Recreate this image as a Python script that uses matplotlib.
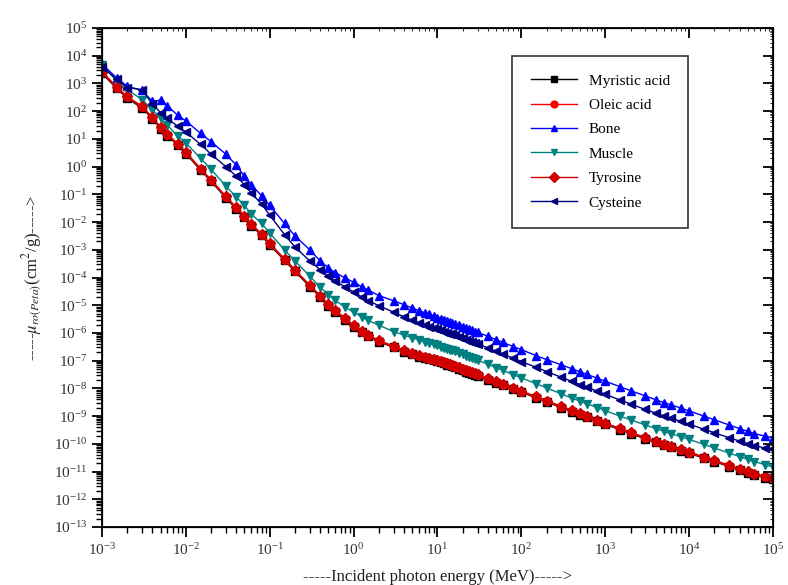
import matplotlib
matplotlib.use("Agg")
import matplotlib.pyplot as plt
import numpy as np

plt.rcParams['font.family'] = ['Liberation Serif', 'DejaVu Serif']
plt.rcParams['mathtext.fontset'] = 'stix'

# photon energy (MeV)
energy = [0.001, 0.0015, 0.002, 0.003, 0.004, 0.005, 0.006, 0.008, 0.01, 0.015,
          0.02, 0.03, 0.04, 0.05, 0.06, 0.08, 0.1, 0.15, 0.2, 0.3,
          0.4, 0.5, 0.6, 0.8, 1, 1.25, 1.5, 2, 3, 4,
          5, 6, 7, 8, 9, 10, 11, 12, 13, 14,
          15, 16, 18, 20, 22, 24, 26, 28, 30, 40,
          50, 60, 80, 100, 150, 200, 300, 400, 500, 600,
          800, 1000, 1500, 2000, 3000, 4000, 5000, 6000, 8000, 1e4,
          1.5e4, 2e4, 3e4, 4e4, 5e4, 6e4, 8e4, 1e5]

# log10 of mu (cm^2/g)
myristic = [3.36, 2.82, 2.47, 2.11, 1.72, 1.37, 1.12, 0.77, 0.47, -0.13,
            -0.53, -1.13, -1.53, -1.83, -2.13, -2.48, -2.83, -3.38, -3.78, -4.33,
            -4.71, -5.03, -5.23, -5.53, -5.78, -5.97, -6.12, -6.32, -6.52, -6.67,
            -6.77, -6.85, -6.9, -6.95, -6.99, -7.02, -7.06, -7.1, -7.14, -7.17,
            -7.2, -7.23, -7.29, -7.34, -7.39, -7.43, -7.47, -7.51, -7.54, -7.68,
            -7.79, -7.88, -8.02, -8.14, -8.34, -8.49, -8.69, -8.84, -8.95, -9.04,
            -9.19, -9.3, -9.49, -9.63, -9.82, -9.95, -10.05, -10.12, -10.24, -10.34,
            -10.52, -10.64, -10.82, -10.94, -11.04, -11.12, -11.22, -11.28]
oleic = [3.4, 2.85, 2.5, 2.15, 1.75, 1.4, 1.15, 0.8, 0.5, -0.1,
         -0.5, -1.1, -1.5, -1.8, -2.1, -2.45, -2.8, -3.35, -3.75, -4.3,
         -4.68, -5.0, -5.2, -5.5, -5.75, -5.95, -6.1, -6.3, -6.5, -6.65,
         -6.75, -6.83, -6.88, -6.93, -6.97, -7.0, -7.04, -7.08, -7.12, -7.15,
         -7.18, -7.21, -7.27, -7.32, -7.37, -7.41, -7.45, -7.49, -7.52, -7.66,
         -7.77, -7.86, -8.0, -8.12, -8.32, -8.47, -8.67, -8.82, -8.93, -9.02,
         -9.17, -9.28, -9.47, -9.61, -9.8, -9.93, -10.03, -10.1, -10.22, -10.32,
         -10.5, -10.62, -10.8, -10.92, -11.02, -11.1, -11.2, -11.26]
bone = [3.7, 3.2, 2.9, 2.75, 2.35, 2.4, 2.2, 1.85, 1.65, 1.2,
        0.9, 0.45, 0.05, -0.35, -0.65, -1.05, -1.4, -2.05, -2.5, -3.0,
        -3.4, -3.65, -3.82, -4.02, -4.17, -4.33, -4.46, -4.65, -4.84, -4.98,
        -5.1, -5.19, -5.27, -5.33, -5.39, -5.45, -5.49, -5.53, -5.57, -5.61,
        -5.64, -5.67, -5.73, -5.78, -5.83, -5.87, -5.91, -5.95, -5.98, -6.12,
        -6.24, -6.34, -6.49, -6.6, -6.82, -6.96, -7.15, -7.29, -7.4, -7.49,
        -7.63, -7.74, -7.94, -8.08, -8.27, -8.41, -8.51, -8.59, -8.71, -8.81,
        -9.0, -9.13, -9.32, -9.45, -9.55, -9.63, -9.72, -9.78]
muscle = [3.65, 3.1, 2.78, 2.42, 2.05, 1.75, 1.5, 1.1, 0.85, 0.3,
          -0.1, -0.7, -1.1, -1.4, -1.7, -2.05, -2.4, -3.0, -3.4, -3.95,
          -4.35, -4.62, -4.82, -5.08, -5.25, -5.42, -5.55, -5.72, -5.95, -6.08,
          -6.17, -6.25, -6.31, -6.36, -6.41, -6.45, -6.49, -6.53, -6.57, -6.6,
          -6.63, -6.66, -6.72, -6.77, -6.82, -6.86, -6.9, -6.94, -6.98, -7.13,
          -7.25, -7.35, -7.5, -7.62, -7.83, -7.98, -8.2, -8.35, -8.46, -8.55,
          -8.69, -8.8, -9.0, -9.13, -9.32, -9.45, -9.55, -9.63, -9.74, -9.84,
          -10.02, -10.15, -10.33, -10.46, -10.56, -10.64, -10.75, -10.83]
tyrosine = [3.43, 2.88, 2.53, 2.18, 1.78, 1.43, 1.18, 0.83, 0.53, -0.07,
            -0.47, -1.07, -1.47, -1.77, -2.07, -2.42, -2.77, -3.32, -3.72, -4.27,
            -4.65, -4.97, -5.17, -5.47, -5.72, -5.92, -6.07, -6.27, -6.47, -6.62,
            -6.72, -6.8, -6.85, -6.9, -6.94, -6.97, -7.01, -7.05, -7.09, -7.12,
            -7.15, -7.18, -7.24, -7.29, -7.34, -7.38, -7.42, -7.46, -7.49, -7.63,
            -7.74, -7.83, -7.97, -8.09, -8.29, -8.44, -8.64, -8.79, -8.9, -8.99,
            -9.14, -9.25, -9.44, -9.58, -9.77, -9.9, -10.0, -10.07, -10.19, -10.29,
            -10.47, -10.59, -10.77, -10.89, -10.99, -11.07, -11.17, -11.23]
cysteine = [3.6, 3.15, 2.85, 2.78, 2.25, 1.95, 1.75, 1.45, 1.25, 0.8,
            0.45, 0.0, -0.35, -0.65, -0.95, -1.35, -1.75, -2.45, -2.9, -3.4,
            -3.72, -3.95, -4.12, -4.35, -4.53, -4.7, -4.83, -5.02, -5.25, -5.42,
            -5.55, -5.64, -5.71, -5.77, -5.82, -5.87, -5.91, -5.95, -5.99, -6.02,
            -6.05, -6.08, -6.14, -6.19, -6.24, -6.28, -6.32, -6.36, -6.39, -6.54,
            -6.66, -6.76, -6.91, -7.03, -7.24, -7.39, -7.6, -7.75, -7.86, -7.95,
            -8.1, -8.21, -8.42, -8.56, -8.76, -8.89, -8.99, -9.07, -9.19, -9.29,
            -9.47, -9.6, -9.78, -9.9, -9.99, -10.06, -10.15, -10.2]

names = ['Myristic acid', 'Oleic acid', 'Bone', 'Muscle', 'Tyrosine', 'Cysteine']
series = [myristic, oleic, bone, muscle, tyrosine, cysteine]
colors = ['black', '#FF0000', '#0000FF', '#008080', '#D00000', '#000080']
markers = ['s', 'o', '^', 'v', 'D', '<']

fig = plt.figure(figsize=(7.88, 5.85), dpi=100)
ax = fig.add_axes([0.1294, 0.0991, 0.8516, 0.8530])

for name, vals, c, m in zip(names, series, colors, markers):
    ax.plot(energy, 10.0 ** np.array(vals), color=c, marker=m, markersize=5.5,
            linewidth=1, label=name)

ax.set_xscale('log')
ax.set_yscale('log')
ax.set_xlim(1e-3, 1e5)
ax.set_ylim(1e-13, 1e5)
ax.set_xticks([10.0 ** k for k in range(-3, 6)])
ax.set_yticks([10.0 ** k for k in range(-13, 6)])
ax.yaxis.set_minor_locator(matplotlib.ticker.LogLocator(base=10, subs=np.arange(2, 10), numticks=40))
ax.yaxis.set_minor_formatter(matplotlib.ticker.NullFormatter())
ax.tick_params(which='major', direction='out', length=7, width=1.3, labelsize=11,
               labelcolor='#333333')
ax.tick_params(which='minor', direction='out', length=4, width=1)
for s in ax.spines.values():
    s.set_linewidth(1.3)

# mirrored ticks pointing inward on top and right
top = ax.twiny()
top.set_xscale('log')
top.set_xlim(ax.get_xlim())
top.set_xticks(ax.get_xticks())
top.tick_params(which='both', direction='in', labeltop=False)
top.tick_params(which='major', length=7, width=1.3)
right = ax.twinx()
right.set_yscale('log')
right.set_ylim(ax.get_ylim())
right.set_yticks(ax.get_yticks())
right.yaxis.set_minor_locator(matplotlib.ticker.LogLocator(base=10, subs=np.arange(2, 10), numticks=40))
right.tick_params(which='both', direction='in', labelright=False)
right.tick_params(which='major', length=7, width=1.3)

ax.set_xlabel('-----Incident photon energy (MeV)----->', fontsize=12, color='#222222',
              labelpad=8)
ax.set_ylabel('-----$\\mu_{ro(Peta)}$(cm$^2$/g)----->', fontsize=12, color='#222222',
              labelpad=6)

leg = ax.legend(loc='upper right', bbox_to_anchor=(0.885, 0.96), fontsize=11,
                frameon=True, fancybox=False, edgecolor='black', labelspacing=0.7,
                handlelength=3, borderpad=1.2, markerscale=0.9)
leg.get_frame().set_linewidth(1.2)

fig.savefig('out.png', dpi=100)
